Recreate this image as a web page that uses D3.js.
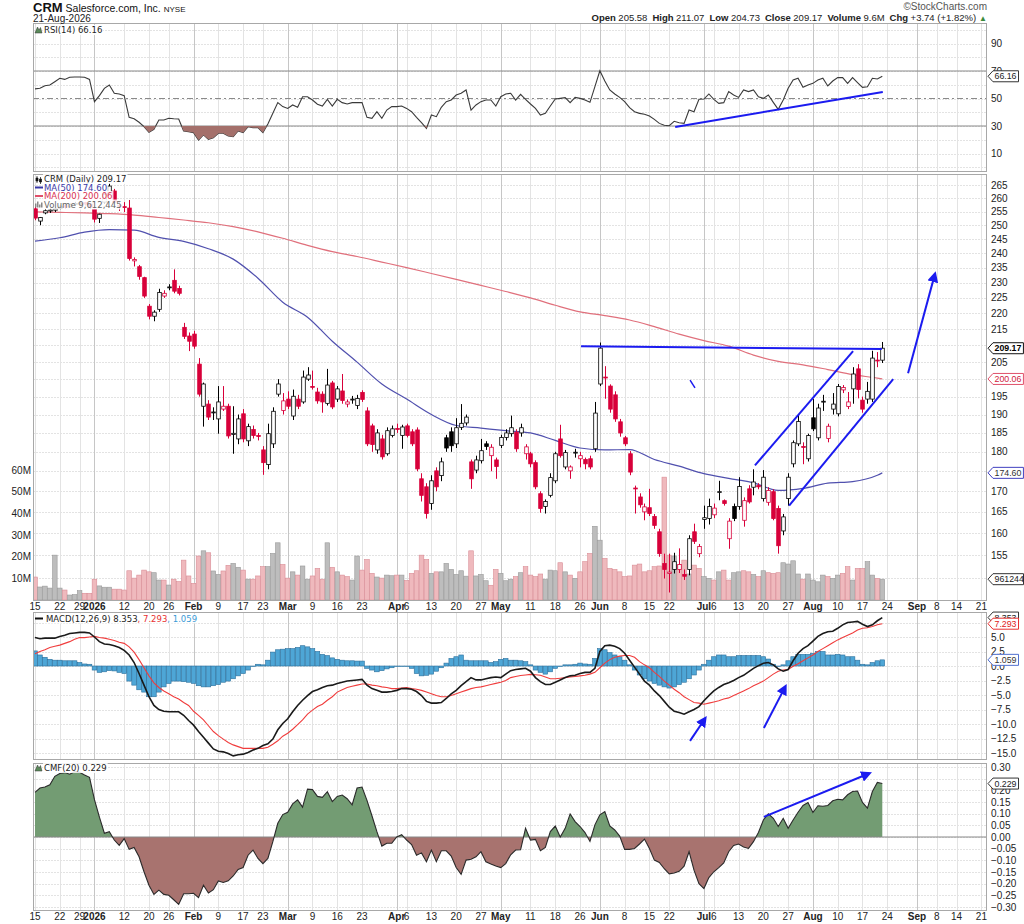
<!DOCTYPE html>
<html>
<head>
<meta charset="utf-8">
<script src="https://cdn.jsdelivr.net/npm/d3@7"></script>
<style>
  body { margin: 0; background: #fff; }
  text { font-family: "Liberation Sans", Arial, sans-serif; }
  .lg { font-family: "DejaVu Sans", Verdana, sans-serif; font-size: 8.5px; }
  .ax { font-size: 10px; fill: #222; }
</style>
</head>
<body>
<svg id="chart" width="1024" height="924"></svg>
<script>
// ---- data ----
const tickIdx = [0,5,9,12,18,23,27,32,37,42,46,51,56,61,66,73,75,80,85,90,94,100,105,110,114,119,124,128,135,137,142,147,152,157,162,167,172,178,182,186,191];
const tickText = ["15","22","29","2026","12","20","26","Feb","9","17","23","Mar","9","16","23","Apr","6","13","20","27","May","11","18","26","Jun","8","15","22","Jul","6","13","20","27","Aug","10","17","24","Sep","8","14","21"];

const priorClose = 254.5;
const opens = [256.0,251.5,254.5,255.2,255.5,256.2,257.2,256.8,257.6,258.0,258.3,257.8,255.8,252.5,258.5,261.9,262.7,257.3,256.8,256.3,
237.4,235.4,231.7,222.3,219.1,221.3,225.6,228.5,230.8,228.1,215.6,212.9,213.5,204.4,192.3,192.9,190.6,188.8,191.5,192.3,
184.6,183.4,190.2,182.9,185.9,184.3,180.5,176.7,182.1,195.7,191.1,194.3,189.6,194.3,193.5,200.0,197.9,196.3,195.7,193.1,
198.9,194.3,196.6,192.9,194.2,192.5,196.2,191.0,186.9,180.5,183.4,179.5,184.3,186.2,184.3,186.9,185.3,185.8,173.1,171.1,
167.0,175.1,173.9,183.7,185.3,182.1,186.5,187.7,177.4,175.3,177.7,182.1,179.0,177.9,181.7,183.8,184.8,185.2,185.0,179.5,
179.5,177.2,169.4,166.3,169.0,172.6,183.4,176.1,175.1,179.8,178.2,178.0,178.2,180.8,198.6,200.6,198.0,195.5,188.0,183.7,
179.5,170.8,168.6,165.0,166.0,163.9,160.3,153.1,150.9,151.8,151.8,150.7,151.8,160.3,155.3,163.2,163.4,164.3,169.8,167.7,
158.7,166.3,166.3,163.0,170.6,171.0,171.4,168.2,167.3,169.9,165.8,160.5,168.2,176.9,182.1,181.4,178.2,189.1,183.7,193.6,
183.5,191.5,190.2,196.9,192.2,197.2,203.0,194.0,194.3,194.3,205.6,205.58];
const highs = [256.8,253.0,256.0,256.2,256.5,257.5,257.6,258.0,258.6,259.0,258.6,258.0,256.0,254.2,262.0,265.8,263.5,258.8,258.5,259.3,
238.6,236.0,232.0,223.0,221.0,228.0,227.5,229.5,234.5,229.0,217.0,214.0,214.5,206.2,199.0,194.0,192.0,198.0,198.0,193.0,
192.3,190.0,191.5,187.5,187.0,185.0,181.5,187.5,192.0,200.0,196.0,196.5,197.0,195.5,202.5,203.5,202.5,197.5,196.5,203.0,
199.5,198.0,201.5,194.2,195.2,195.5,196.8,192.0,187.5,186.0,184.5,186.5,187.0,187.5,187.2,187.5,186.0,186.5,174.5,172.0,
174.0,176.0,178.5,184.5,186.5,189.0,192.9,190.0,178.0,179.0,183.4,182.8,182.0,178.5,184.5,186.0,189.7,186.0,187.5,182.0,
180.0,177.8,170.0,168.0,174.5,180.0,187.2,180.5,176.5,180.8,180.0,178.5,179.0,193.5,210.9,203.8,198.5,196.5,188.8,184.2,
180.2,171.4,169.5,167.0,170.6,164.5,161.0,155.3,155.3,155.5,156.5,151.8,159.5,162.2,157.5,166.5,168.2,167.0,172.6,168.0,
163.5,167.0,173.5,168.5,171.5,175.5,172.0,175.3,171.0,170.5,166.5,164.5,174.5,183.0,190.0,182.5,184.8,194.3,193.0,195.5,
187.5,196.0,198.6,198.3,196.3,203.5,204.4,195.0,199.2,208.4,208.0,211.07];
const lows = [251.8,250.0,254.0,254.5,254.8,255.8,256.0,256.5,257.0,257.4,257.2,256.0,251.0,250.8,257.8,261.5,258.0,255.2,254.8,237.5,
235.5,231.0,225.0,218.1,217.5,220.5,225.0,227.5,226.5,225.8,212.0,208.3,209.0,195.0,186.7,188.5,188.5,184.8,191.0,183.5,
179.5,182.0,182.5,181.5,183.5,183.0,174.1,175.5,181.0,195.0,190.0,191.5,188.5,191.5,193.0,199.5,197.0,193.0,190.5,192.5,
191.5,193.5,193.0,192.0,193.0,191.5,193.5,181.5,180.0,179.5,178.0,179.0,183.8,185.0,180.8,183.8,181.5,175.0,167.5,163.4,
165.5,170.0,172.5,180.0,180.0,181.0,185.8,187.0,170.6,174.5,177.0,180.5,175.0,173.1,181.0,183.0,184.0,180.0,184.0,178.0,
176.0,170.5,164.8,164.6,168.5,172.0,178.5,175.5,173.1,178.5,176.0,175.5,175.5,180.0,198.0,194.4,190.5,188.0,184.0,181.5,
174.0,164.6,166.0,163.0,164.0,161.0,154.6,149.8,146.8,150.9,151.0,149.5,150.5,157.5,154.5,161.0,162.0,163.5,167.8,166.5,
156.4,162.8,165.5,161.5,167.0,169.0,170.5,167.5,166.5,163.0,155.3,159.5,166.5,176.0,181.5,176.8,177.5,185.5,183.0,191.0,
182.5,190.0,189.5,196.0,191.5,193.0,194.5,190.5,193.0,193.5,203.5,204.73];
const closes = [252.6,252.8,255.3,255.6,256.0,257.0,256.6,257.6,258.0,258.2,257.8,256.6,252.2,254.0,261.5,264.6,258.5,257.0,256.5,238.2,
237.9,232.1,225.6,219.1,220.4,226.8,226.5,228.6,227.2,226.5,212.8,211.3,209.8,195.7,198.6,189.3,190.7,193.5,192.3,184.2,
184.9,188.8,183.4,186.7,184.3,184.1,177.2,184.8,190.9,198.6,193.8,192.3,195.1,192.3,200.6,201.2,197.8,193.8,193.5,198.3,
192.1,197.2,193.9,193.5,194.3,194.5,194.2,182.1,181.9,185.0,178.7,185.6,186.1,186.0,186.6,184.3,182.1,175.6,169.0,164.6,
172.6,171.1,177.4,181.0,181.6,186.4,187.6,189.3,173.1,177.9,180.3,181.4,181.2,176.2,183.8,185.0,186.4,180.8,186.4,181.3,
176.9,171.1,165.8,167.5,173.4,179.5,179.0,179.8,176.1,179.9,179.0,176.9,176.1,190.4,209.2,200.4,191.5,188.8,185.0,182.1,
174.8,170.6,166.7,166.2,164.6,161.8,155.3,151.8,151.2,153.5,152.9,150.3,158.7,158.1,156.9,163.6,166.3,165.9,169.9,167.0,
162.8,163.4,171.2,167.7,167.4,172.3,171.1,173.5,170.2,163.4,157.1,163.8,173.5,182.4,188.1,181.3,184.3,186.1,191.8,193.7,
186.8,192.9,197.9,197.6,193.5,201.5,197.0,191.5,196.5,206.2,205.43,209.17];
// volume in millions
const volumes = [10.6,6.0,6.4,5.5,20.7,5.5,4.6,2.3,2.5,4.3,3.1,3.1,9.6,6.5,5.9,5.9,5.0,5.0,4.6,13.5,
10.1,11.5,13.8,13.0,12.6,9.2,9.2,6.9,9.6,8.5,18.4,11.1,7.7,20.3,22.7,21.8,13.4,11.8,13.4,16.0,
16.9,15.1,13.8,9.6,9.6,11.1,15.4,15.4,21.5,26.4,16.4,10.1,13.0,11.5,15.7,9.6,11.1,14.6,9.6,26.4,
15.1,13.0,11.5,10.8,9.2,20.3,13.8,18.7,12.3,10.6,10.1,11.5,11.2,11.5,11.5,9.0,12.3,13.5,20.7,18.7,
12.3,13.0,13.0,16.9,14.1,11.8,13.5,11.0,22.7,11.1,11.8,8.9,6.8,14.1,12.3,8.9,9.6,10.8,12.6,15.4,
11.5,10.8,12.0,9.6,13.8,13.5,17.2,13.0,11.5,10.0,13.0,17.7,21.5,34.0,27.6,19.2,14.6,14.1,13.0,10.8,
11.1,16.1,16.6,13.0,13.5,15.4,15.7,56.7,20.7,20.3,16.1,18.4,12.0,16.1,14.6,10.8,10.0,9.2,13.0,13.8,
9.2,12.6,13.0,13.5,13.0,11.8,10.8,13.5,12.6,12.3,12.6,17.2,16.6,18.1,12.0,9.6,12.0,9.2,8.4,11.5,
10.8,10.0,11.5,12.3,15.4,9.2,14.6,14.6,17.7,11.5,10.0,9.61];

const rsi = [57.0,57.4,59.3,59.8,62.2,64.7,63.9,65.4,65.6,65.6,65.4,63.9,47.7,52.1,57.4,59.8,53.8,53.3,52.1,36.3,
35.3,32.7,29.5,25.4,27.6,34.4,34.4,35.6,35.3,35.1,26.4,25.9,25.2,19.8,23.5,20.3,21.5,24.7,24.7,22.7,
22.2,26.4,25.2,29.5,28.8,28.8,25.2,31.5,39.2,47.0,44.1,42.8,45.3,43.6,51.3,51.3,48.9,45.8,44.5,49.4,
44.5,49.4,47.0,46.0,47.0,47.0,47.0,36.3,35.6,40.4,35.6,41.6,44.1,44.1,44.5,42.8,40.4,36.3,32.4,28.3,
38.0,36.8,43.6,47.7,48.9,52.5,53.8,56.2,41.6,45.3,47.7,48.9,48.9,44.5,51.3,53.3,53.8,48.9,53.0,49.4,
46.0,42.8,38.0,39.2,44.5,49.6,50.1,50.6,47.0,50.8,50.1,48.9,47.2,58.6,70.2,62.7,56.2,53.3,50.8,47.7,
43.3,40.4,39.2,38.5,37.3,34.8,31.9,30.5,30.2,33.4,32.4,31.9,41.6,40.4,49.4,49.6,53.3,49.4,46.5,47.0,
55.0,52.5,50.8,56.2,55.0,56.2,51.3,50.1,52.5,47.2,42.1,48.9,57.4,63.5,64.7,58.1,59.8,61.0,63.4,64.7,
59.1,62.7,65.2,65.2,61.0,65.2,61.6,58.1,58.6,64.7,64.2,66.16];

const macd = [4.9,4.7,4.8,4.8,4.8,5.1,5.3,5.6,5.7,5.8,5.8,5.7,5.0,4.2,3.8,3.7,3.5,3.2,2.7,1.9,
0.6,-1.3,-3.3,-5.3,-6.8,-7.5,-7.8,-7.9,-7.9,-7.9,-8.5,-9.4,-10.2,-11.3,-12.3,-13.3,-14.3,-14.7,-14.8,-15.1,
-15.5,-15.3,-15.2,-14.9,-14.5,-14.2,-13.7,-13.4,-12.6,-11.0,-9.9,-9.1,-7.9,-6.8,-5.9,-5.1,-4.4,-4.1,-3.7,-3.4,
-3.3,-3.0,-2.8,-2.6,-2.5,-2.4,-2.3,-3.3,-3.9,-4.2,-4.5,-4.5,-4.4,-4.2,-3.9,-3.9,-4.0,-4.4,-5.1,-6.1,
-6.4,-6.4,-6.3,-5.6,-4.8,-4.2,-3.4,-2.7,-2.0,-2.4,-2.4,-2.2,-2.0,-1.9,-2.0,-1.4,-0.8,-0.6,-0.5,-0.4,
-0.9,-2.0,-2.7,-3.2,-3.2,-2.8,-2.4,-2.0,-1.7,-1.6,-1.3,-1.1,-1.1,-0.4,2.5,3.5,3.6,3.4,3.0,2.2,
1.0,-0.2,-1.4,-2.6,-3.3,-4.3,-5.1,-6.1,-7.1,-7.8,-8.0,-8.3,-7.9,-7.5,-7.0,-6.0,-5.1,-4.3,-3.7,-3.2,
-2.9,-2.5,-2.0,-1.6,-1.0,-0.4,0.06,0.46,0.6,0.2,-0.5,-0.9,-0.6,0.9,2.2,3.0,3.5,4.3,5.1,5.6,
5.9,6.0,6.5,7.1,7.5,7.6,7.7,7.2,6.8,7.1,7.8,8.353];
const signal = [2.1,2.5,2.8,3.2,3.4,3.6,3.9,4.2,4.6,4.9,4.9,5.0,5.1,4.9,4.8,4.6,4.4,4.1,3.9,3.3,
2.4,1.1,-0.3,-1.7,-2.9,-3.7,-4.3,-4.8,-5.3,-5.7,-6.3,-6.8,-7.8,-8.5,-9.3,-10.3,-11.3,-12.0,-12.6,-13.2,
-13.6,-13.9,-14.2,-14.2,-14.2,-14.2,-14.2,-14.0,-13.5,-12.9,-12.1,-11.6,-10.9,-10.1,-9.3,-8.3,-7.6,-7.0,-6.6,-5.9,
-5.3,-4.5,-4.1,-3.7,-3.5,-3.3,-3.1,-3.1,-3.3,-3.4,-3.6,-3.7,-3.9,-3.9,-3.8,-3.7,-3.9,-4.0,-4.2,-4.5,
-4.8,-5.1,-5.3,-5.3,-5.1,-4.8,-4.5,-4.2,-3.9,-3.7,-3.6,-3.4,-3.2,-3.0,-2.8,-2.5,-2.0,-1.8,-1.65,-1.55,
-1.45,-1.5,-1.6,-1.9,-2.2,-2.2,-2.1,-2.0,-1.9,-1.8,-1.7,-1.6,-1.4,-1.1,-0.3,0.5,1.1,1.5,1.7,1.8,
1.8,1.5,0.75,0.2,-0.3,-1.1,-1.8,-2.6,-3.3,-4.0,-4.6,-5.3,-5.8,-6.3,-6.4,-6.6,-6.4,-6.2,-6.0,-5.7,
-5.5,-5.1,-4.7,-4.3,-3.9,-3.4,-3.0,-2.6,-2.0,-1.4,-0.9,-0.7,-0.6,-0.06,0.4,0.9,1.4,1.9,2.5,3.0,
3.5,4.0,4.5,4.9,5.3,5.7,6.2,6.5,6.6,6.8,7.1,7.293];
const hist = [2.6,1.9,1.5,1.15,1.0,1.0,0.9,0.9,0.9,0.6,0.35,0.3,-0.7,-1.1,-1.0,-0.8,-0.85,-1.1,-1.3,-2.6,
-3.3,-4.1,-4.5,-5.3,-5.3,-4.5,-3.6,-3.0,-2.6,-2.6,-2.7,-2.8,-3.0,-3.4,-3.6,-3.6,-3.4,-3.2,-2.8,-2.6,
-2.2,-1.7,-1.3,-0.7,-0.1,0.3,0.2,1.0,2.4,2.8,2.9,3.0,3.0,3.2,3.5,3.3,3.0,2.5,2.0,1.8,
1.4,1.15,1.0,0.9,0.9,0.85,0.85,-0.4,-0.7,-1.0,-0.8,-0.5,-0.3,-0.1,0.0,-0.05,-0.4,-1.3,-1.7,-1.6,
-1.4,-0.9,-0.3,0.5,1.3,1.6,1.9,1.0,0.9,0.9,0.9,0.9,0.6,0.75,1.15,1.3,1.0,1.0,0.9,0.75,
0.2,-0.7,-1.1,-1.4,-1.0,-0.4,-0.1,0.2,0.2,0.3,0.5,0.35,0.3,1.3,3.0,2.8,2.3,1.9,1.6,1.0,
0.2,-0.7,-1.55,-2.2,-2.6,-3.0,-3.3,-3.6,-3.8,-3.6,-3.2,-2.8,-2.2,-1.55,-0.7,0.3,1.0,1.6,1.9,1.9,
1.6,1.6,1.8,1.8,1.8,1.8,1.8,1.6,1.2,0.3,-0.1,0.2,0.9,1.6,2.0,2.0,2.0,2.2,2.5,2.5,
1.9,1.9,2.0,1.9,1.6,1.6,1.0,0.3,0.2,0.6,0.9,1.059];

const cmf = [0.191,0.21,0.214,0.224,0.26,0.272,0.276,0.269,0.28,0.277,0.266,0.256,0.16,0.085,0.016,0.023,-0.013,-0.036,-0.007,-0.053,
-0.045,-0.085,-0.149,-0.207,-0.246,-0.228,-0.246,-0.25,-0.269,-0.289,-0.243,-0.243,-0.241,-0.26,-0.207,-0.24,-0.226,-0.188,-0.195,-0.188,
-0.167,-0.139,-0.131,-0.078,-0.056,-0.092,-0.114,-0.092,-0.02,0.059,0.096,0.106,0.142,0.159,0.128,0.205,0.203,0.174,0.17,0.194,
0.152,0.174,0.18,0.164,0.138,0.21,0.214,0.157,0.091,0.023,-0.039,-0.027,-0.027,0.0,0.01,-0.013,-0.032,-0.078,-0.068,-0.106,
-0.056,-0.106,-0.059,-0.059,-0.082,-0.131,-0.16,-0.099,-0.095,-0.085,-0.063,-0.106,-0.116,-0.124,-0.131,-0.114,-0.076,-0.056,-0.055,0.037,
-0.013,-0.01,-0.059,-0.045,0.023,0.047,0.0,0.037,0.099,0.066,0.045,0.019,-0.019,0.052,0.095,0.109,0.047,0.03,0.004,-0.053,
-0.053,-0.049,-0.03,-0.009,-0.049,-0.099,-0.109,-0.136,-0.158,-0.154,-0.147,-0.125,-0.063,-0.142,-0.2,-0.221,-0.174,-0.149,-0.131,-0.111,
-0.063,-0.036,-0.03,-0.043,-0.049,-0.02,0.019,0.073,0.099,0.08,0.045,0.08,0.037,0.073,0.106,0.135,0.148,0.105,0.134,0.132,
0.135,0.155,0.162,0.159,0.181,0.195,0.197,0.148,0.124,0.195,0.234,0.229];

// moving averages, read every 5th bar
const maIdx = [0,5,10,15,20,25,30,35,40,45,50,55,60,65,70,75,80,85,90,95,100,105,110,115,120,125,130,135,140,145,150,155,160,165,170,171];
const ma50 = [244.3,245.5,247.5,248.4,248.2,245.6,244.2,241.6,238.0,231.5,223.6,218.8,211.3,205.0,198.6,194.3,190.0,187.0,186.3,185.6,185.0,183.0,181.0,180.5,180.6,178.0,176.3,174.4,173.2,172.1,170.2,170.7,172.0,172.4,174.0,174.6];
const ma200 = [254.9,254.7,254.5,254.2,253.7,252.8,251.9,250.9,249.5,247.6,245.3,242.8,240.6,238.9,237.0,235.1,233.1,231.1,229.1,227.1,225.0,222.6,220.5,219.3,217.9,215.8,213.5,211.5,209.8,207.1,205.2,204.2,202.8,201.3,200.3,200.06];

// hand-drawn annotations, in [bar, value]
const resistLine = [[110.2, 209.8], [170.9, 208.9]];
const channelUp = [[145.3, 176.5], [165.1, 208.3]];
const channelLow = [[152.2, 166.5], [173.2, 200.0]];
const priceArrow = [[176.2, 201.7], [181.6, 232.8]];
const smallMark = [[132.2, 199.7], [133.2, 197.5]];
const rsiTrend = [[129.2, 29.3], [171.1, 54.7]];
const macdArrow1 = [[132.2, -12.9], [135.2, -9.1]];
const macdArrow2 = [[147.1, -10.7], [151.4, -3.6]];
const cmfArrow = [[147.1, 0.086], [168.3, 0.272]];

// ---- layout ----
const plotL = 33, plotR = 987;
const P = {
  rsi: [23, 172],
  price: [174, 601],
  macd: [612, 760],
  cmf: [763, 911]
};
const x = d3.scaleLinear().domain([0, 191]).range([35, 981.4]);
const yR = d3.scaleLinear().domain([30, 70]).range([126, 71]);
const yP = d3.scaleLog().domain([155, 265]).range([555, 185]);
const yV = d3.scaleLinear().domain([0, 60]).range([600, 470]);
const yM = d3.scaleLinear().domain([-15, 5]).range([753, 637]);
const yC = d3.scaleLinear().domain([-0.3, 0.3]).range([907, 767]);

const svg = d3.select("#chart");
const defs = svg.append("defs");
const BLUE = "#1b1bf0";

function clip(id, y0, y1) {
  defs.append("clipPath").attr("id", id)
    .append("rect").attr("x", plotL).attr("y", y0).attr("width", plotR - plotL).attr("height", y1 - y0);
}
clip("c-rsi", P.rsi[0], P.rsi[1]);
clip("c-price", P.price[0], P.price[1]);
clip("c-macd", P.macd[0], P.macd[1]);
clip("c-cmf", P.cmf[0], P.cmf[1]);
clip("c-rsi-lo", yR(30), P.rsi[1]);
clip("c-rsi-hi", P.rsi[0], yR(70));
clip("c-cmf-pos", P.cmf[0], yC(0));
clip("c-cmf-neg", yC(0), P.cmf[1]);

defs.append("marker").attr("id", "arr")
  .attr("viewBox", "0 0 10 10").attr("refX", 7).attr("refY", 5)
  .attr("markerUnits", "userSpaceOnUse").attr("markerWidth", 11).attr("markerHeight", 11)
  .attr("orient", "auto")
  .append("path").attr("d", "M0,0 L10,5 L0,10 Z").attr("fill", BLUE);

function isMonth(t) { return /^[A-Z]/.test(t) || t === "2026"; }

// panel frame + grid
function panel(key, hVals) {
  const [t, b] = P[key];
  svg.append("rect").attr("x", plotL).attr("y", t).attr("width", plotR - plotL).attr("height", b - t)
    .attr("fill", "#fff");
  const g = svg.append("g");
  hVals.forEach(v => {
    g.append("line").attr("x1", plotL).attr("x2", plotR).attr("y1", v).attr("y2", v)
      .attr("stroke", "#e3e3e3").attr("stroke-dasharray", "2,1");
  });
  tickIdx.forEach((d, i) => {
    const xx = Math.round(x(d)) + 0.5;
    g.append("line").attr("x1", xx).attr("x2", xx).attr("y1", t).attr("y2", b)
      .attr("stroke", isMonth(tickText[i]) ? "#c6c6c6" : "#e3e3e3");
  });
}

panel("rsi", d3.range(0, 101, 10).map(v => Math.round(yR(v)) + 0.5));
panel("price", d3.range(150, 266, 5).map(v => Math.round(yP(v)) + 0.5));
panel("macd", d3.range(-15, 7.6, 2.5).map(v => Math.round(yM(v)) + 0.5));
panel("cmf", d3.range(-0.3, 0.301, 0.05).map(v => Math.round(yC(v)) + 0.5));

// ---- RSI ----
const gR = svg.append("g").attr("clip-path", "url(#c-rsi)");
[70, 30].forEach(v => {
  gR.append("line").attr("x1", plotL).attr("x2", plotR).attr("y1", yR(v)).attr("y2", yR(v))
    .attr("stroke", "#8a8a8a").attr("stroke-width", 1.2);
});
gR.append("line").attr("x1", plotL).attr("x2", plotR).attr("y1", yR(50)).attr("y2", yR(50))
  .attr("stroke", "#8a8a8a").attr("stroke-dasharray", "6,3,2,3");
const rsiArea30 = d3.area().x((d, i) => x(i)).y0(yR(30)).y1(d => yR(d));
const rsiArea70 = d3.area().x((d, i) => x(i)).y0(yR(70)).y1(d => yR(d));
svg.append("path").datum(rsi).attr("d", rsiArea30).attr("fill", "#a4706b").attr("clip-path", "url(#c-rsi-lo)");
svg.append("path").datum(rsi).attr("d", rsiArea70).attr("fill", "#709c70").attr("clip-path", "url(#c-rsi-hi)");
gR.append("path").datum(rsi)
  .attr("d", d3.line().x((d, i) => x(i)).y(d => yR(d)))
  .attr("fill", "none").attr("stroke", "#3a3a3a").attr("stroke-width", 1.1);

// ---- price + volume ----
const gP = svg.append("g").attr("clip-path", "url(#c-price)");
volumes.forEach((v, i) => {
  const prev = i ? closes[i - 1] : priorClose;
  const down = closes[i] < prev;
  gP.append("rect")
    .attr("x", x(i) - 2.3).attr("y", yV(v)).attr("width", 4.6).attr("height", yV(0) - yV(v))
    .attr("fill", down ? "#efb9bd" : "#bdbdbd")
    .attr("stroke", down ? "#d98d96" : "#999").attr("stroke-width", 0.6);
});

const maLine = d3.line().x((d, i) => x(maIdx[i])).y(d => yP(d)).curve(d3.curveMonotoneX);
gP.append("path").datum(ma200).attr("d", maLine).attr("fill", "none").attr("stroke", "#e0707c").attr("stroke-width", 1.2);
gP.append("path").datum(ma50).attr("d", maLine).attr("fill", "none").attr("stroke", "#5050ae").attr("stroke-width", 1.2);

closes.forEach((c, i) => {
  const o = opens[i];
  const prev = i ? closes[i - 1] : priorClose;
  const col = c < prev ? "#d8003a" : "#000";
  const xc = Math.round(x(i)) + 0.5;
  gP.append("line").attr("x1", xc).attr("x2", xc).attr("y1", yP(highs[i])).attr("y2", yP(lows[i]))
    .attr("stroke", col).attr("stroke-width", 1);
  const yt = yP(Math.max(o, c)), yb = yP(Math.min(o, c));
  gP.append("rect").attr("x", xc - 1.8).attr("y", yt).attr("width", 3.6).attr("height", Math.max(yb - yt, 0.9))
    .attr("fill", c > o ? "#fff" : col).attr("stroke", col).attr("stroke-width", 0.8);
});

// ---- MACD ----
const gM = svg.append("g").attr("clip-path", "url(#c-macd)");
hist.forEach((h, i) => {
  const y0 = yM(0), y1 = yM(h);
  gM.append("rect").attr("x", x(i) - 2.3).attr("y", Math.min(y0, y1)).attr("width", 4.6)
    .attr("height", Math.max(Math.abs(y1 - y0), 0.5))
    .attr("fill", "#4ea6d6").attr("stroke", "#2b6f9c").attr("stroke-width", 0.6);
});
gM.append("path").datum(signal).attr("d", d3.line().x((d, i) => x(i)).y(d => yM(d)))
  .attr("fill", "none").attr("stroke", "#f03c3c").attr("stroke-width", 1.1);
gM.append("path").datum(macd).attr("d", d3.line().x((d, i) => x(i)).y(d => yM(d)))
  .attr("fill", "none").attr("stroke", "#1a1a1a").attr("stroke-width", 1.6);

// ---- CMF ----
const cmfArea = d3.area().x((d, i) => x(i)).y0(yC(0)).y1(d => yC(d));
svg.append("path").datum(cmf).attr("d", cmfArea).attr("fill", "#739c73").attr("clip-path", "url(#c-cmf-pos)");
svg.append("path").datum(cmf).attr("d", cmfArea).attr("fill", "#a8736f").attr("clip-path", "url(#c-cmf-neg)");
const gC = svg.append("g").attr("clip-path", "url(#c-cmf)");
gC.append("line").attr("x1", plotL).attr("x2", plotR).attr("y1", yC(0)).attr("y2", yC(0)).attr("stroke", "#888");
gC.append("path").datum(cmf).attr("d", d3.line().x((d, i) => x(i)).y(d => yC(d)))
  .attr("fill", "none").attr("stroke", "#2a2a2a").attr("stroke-width", 1.1);

// panel borders
Object.values(P).forEach(([t, b]) => {
  svg.append("rect").attr("x", plotL + 0.5).attr("y", t + 0.5).attr("width", plotR - plotL - 1).attr("height", b - t - 1)
    .attr("fill", "none").attr("stroke", "#a8a8a8");
});

// ---- annotations ----
function seg(pts, ys, arrow, w) {
  const p = svg.append("line")
    .attr("x1", x(pts[0][0])).attr("y1", ys(pts[0][1]))
    .attr("x2", x(pts[1][0])).attr("y2", ys(pts[1][1]))
    .attr("stroke", BLUE).attr("stroke-width", w || 2);
  if (arrow) p.attr("marker-end", "url(#arr)");
}
seg(resistLine, yP);
seg(channelUp, yP);
seg(channelLow, yP);
seg(priceArrow, yP, true);
seg(smallMark, yP, false, 1.5);
seg(rsiTrend, yR);
seg(macdArrow1, yM, true);
seg(macdArrow2, yM, true);
seg(cmfArrow, yC, true);

// ---- value tags (positions also used to hide the axis labels they cover) ----
const tags = [
  [yR(rsi[171]), "66.16", "#333", "#222", false],
  [yP(closes[171]), "209.17", "#111", "#000", true],
  [yP(ma200[ma200.length - 1]), "200.06", "#e0506a", "#d02040", false],
  [yP(ma50[ma50.length - 1]), "174.60", "#4040c0", "#333", false],
  [yV(volumes[171]), "9612446", "#333", "#222", false],
  [yM(macd[171]), "8.353", "#333", "#222", false],
  [yM(signal[171]), "7.293", "#e83030", "#e02020", false],
  [yM(hist[171]), "1.059", "#5070d0", "#333", false],
  [yC(cmf[171]), "0.229", "#333", "#222", false]
];
function covered(yy) { return tags.some(t => Math.abs(t[0] - yy) < 5); }

// ---- axes text ----
const axR = 991;
function rightLabels(vals, ys, fmt) {
  vals.forEach(v => {
    if (covered(ys(v))) return;
    svg.append("text").attr("class", "ax").attr("x", axR).attr("y", ys(v) + 3.5).text(fmt(v));
  });
}
rightLabels([90, 70, 50, 30, 10], yR, d => d);
rightLabels(d3.range(150, 266, 5), yP, d => d);
rightLabels(d3.range(-15, 5.1, 2.5), yM, d3.format(".1f"));
rightLabels(d3.range(-0.3, 0.301, 0.05), yC, d => d3.format(".2f")(Math.abs(d) < 1e-9 ? 0 : d));

[10, 20, 30, 40, 50, 60].forEach(v => {
  svg.append("text").attr("class", "ax").attr("x", 31).attr("y", yV(v) + 3.5)
    .attr("text-anchor", "end").text(v + "M");
});

[609.5, 920].forEach(yy => {
  tickIdx.forEach((d, i) => {
    svg.append("text").attr("class", "ax").attr("x", x(d)).attr("y", yy)
      .attr("text-anchor", "middle")
      .attr("font-weight", isMonth(tickText[i]) ? "bold" : "normal")
      .text(tickText[i]);
  });
});

tags.forEach(([yv, txt, stroke, fill, bold]) => {
  const g = svg.append("g").attr("transform", "translate(988," + yv + ")");
  const box = g.append("path").attr("fill", "#fff").attr("stroke", stroke).attr("stroke-width", 1);
  const t = g.append("text").attr("x", 6.5).attr("y", 3.2).attr("font-size", 8.8).attr("fill", fill)
    .attr("font-weight", bold ? "bold" : "normal").text(txt);
  const w = t.node().getComputedTextLength();
  const r = Math.min(w + 8.5, 35.5);
  box.attr("d", "M0,0 L5,-5.5 L" + r + ",-5.5 L" + r + ",5.5 L5,5.5 Z");
});

// ---- legends ----
function legend(xp, yp, parts) {
  const t = svg.append("text").attr("class", "lg").attr("x", xp).attr("y", yp);
  parts.forEach(p => t.append("tspan").attr("fill", p[1]).text(p[0]));
  const bb = t.node().getBBox();
  svg.insert("rect", () => t.node())
    .attr("x", bb.x - 1).attr("y", bb.y).attr("width", bb.width + 2).attr("height", bb.height)
    .attr("fill", "#fff").attr("opacity", 0.85);
}
// RSI icon
svg.append("path").attr("d", "M35,33 L37.5,27 L39,30 L40.5,27.5 L42,33 Z").attr("fill", "#5a8a5a").attr("stroke", "#333").attr("stroke-width", 0.5);
legend(44, 33, [["RSI(14) 66.16", "#222"]]);
// price legend
svg.append("path").attr("d", "M37,176 V183 M36,178 h2 v3 h-2 z M40.5,177 V184 M39.5,179 h2 v3 h-2 z").attr("stroke", "#111").attr("fill", "#111").attr("stroke-width", 0.7);
legend(44, 182, [["CRM (Daily) 209.17", "#222"]]);
svg.append("line").attr("x1", 35).attr("x2", 43).attr("y1", 187.5).attr("y2", 187.5).attr("stroke", "#3838a8").attr("stroke-width", 2);
legend(44, 190.5, [["MA(50) 174.60", "#3838a8"]]);
svg.append("line").attr("x1", 35).attr("x2", 43).attr("y1", 196).attr("y2", 196).attr("stroke", "#e0506a").attr("stroke-width", 2);
legend(44, 199, [["MA(200) 200.06", "#d83050"]]);
[[35, 4], [37, 6], [39, 3], [41, 5]].forEach(b => {
  svg.append("rect").attr("x", b[0]).attr("y", 207.5 - b[1]).attr("width", 1.5).attr("height", b[1]).attr("fill", "#888");
});
legend(44, 207.5, [["Volume 9,612,445", "#666"]]);
// MACD legend
svg.append("line").attr("x1", 35).attr("x2", 43).attr("y1", 618.5).attr("y2", 618.5).attr("stroke", "#111").attr("stroke-width", 2);
legend(46, 621.5, [["MACD(12,26,9) 8.353", "#222"], [", 7.293", "#e83030"], [", 1.059", "#3a9ad6"]]);
// CMF legend
svg.append("path").attr("d", "M35,771 L37.5,765 L39,768 L40.5,765.5 L42,771 Z").attr("fill", "#5a8a5a").attr("stroke", "#333").attr("stroke-width", 0.5);
legend(44, 771, [["CMF(20) 0.229", "#222"]]);

// ---- header ----
const h1 = svg.append("text").attr("x", 33).attr("y", 12).attr("fill", "#111");
h1.append("tspan").attr("font-weight", "bold").attr("font-size", 13).text("CRM");
h1.append("tspan").attr("font-size", 10.5).attr("dx", 3).text("Salesforce.com, Inc.");
h1.append("tspan").attr("font-size", 8).attr("dx", 3).text("NYSE");
svg.append("text").attr("x", 33).attr("y", 21.5).attr("font-size", 10).attr("fill", "#222").text("21-Aug-2026");

svg.append("text").attr("x", 987).attr("y", 10).attr("text-anchor", "end").attr("font-size", 10)
  .attr("fill", "#555").text("\u00a9StockCharts.com");
const stats = svg.append("text").attr("x", 987).attr("y", 21).attr("text-anchor", "end").attr("font-size", 9.5).attr("fill", "#222");
[["Open", "205.58"], ["High", "211.07"], ["Low", "204.73"], ["Close", "209.17"], ["Volume", "9.6M"], ["Chg", "+3.74 (+1.82%)"]].forEach((p, i) => {
  stats.append("tspan").attr("font-weight", "bold").attr("dx", i ? 5 : 0).text(p[0]);
  stats.append("tspan").attr("dx", 2.5).text(p[1]);
});
stats.append("tspan").attr("fill", "#3a8a3a").attr("font-size", 8).attr("dx", 3).text("\u25b2");
</script>
</body>
</html>
